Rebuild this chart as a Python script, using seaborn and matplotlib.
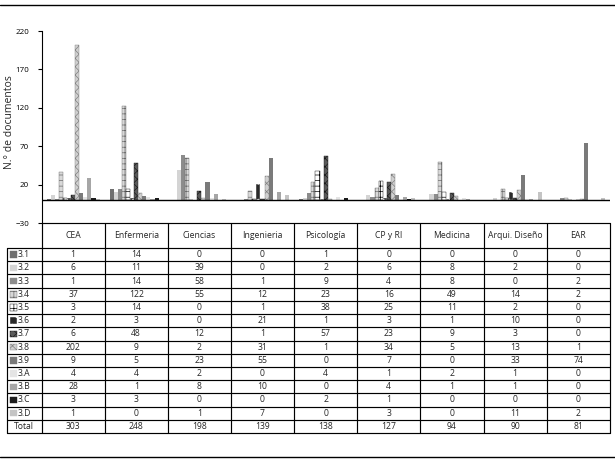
import numpy as np
import pandas as pd
import matplotlib
matplotlib.use("Agg")
import matplotlib.pyplot as plt
from matplotlib.patches import Rectangle
import seaborn as sns

facultades = ["CEA", "Enfermeria", "Ciencias", "Ingenieria", "Psicología",
              "CP y RI", "Medicina", "Arqui. Diseño", "EAR"]
series = ["3.1", "3.2", "3.3", "3.4", "3.5", "3.6", "3.7", "3.8", "3.9",
          "3.A", "3.B", "3.C", "3.D"]
cea = [1, 6, 1, 37, 3, 2, 6, 202, 9, 4, 28, 3, 1]
enfermeria = [14, 11, 14, 122, 14, 3, 48, 9, 5, 4, 1, 3, 0]
ciencias = [0, 39, 58, 55, 0, 0, 12, 2, 23, 2, 8, 0, 1]
ingenieria = [0, 0, 1, 12, 1, 21, 1, 31, 55, 0, 10, 0, 7]
psicologia = [1, 2, 9, 23, 38, 1, 57, 1, 0, 4, 0, 2, 0]
cpyri = [0, 6, 4, 16, 25, 3, 23, 34, 7, 1, 4, 1, 3]
medicina = [0, 8, 8, 49, 11, 1, 9, 5, 0, 2, 1, 0, 0]
arqui = [0, 2, 0, 14, 2, 10, 3, 13, 33, 1, 1, 0, 11]
ear = [0, 0, 2, 2, 0, 0, 0, 1, 74, 0, 0, 0, 2]
totales = [303, 248, 198, 139, 138, 127, 94, 90, 81]

columnas = [cea, enfermeria, ciencias, ingenieria, psicologia, cpyri, medicina, arqui, ear]

# Estilo de cada serie (relleno, trama, color de trama)
relleno = ["#707070", "#d4d4d4", "#8c8c8c", "#d8d8d8", "#ffffff", "#2a2a2a", "#5a5a5a",
           "#d0d0d0", "#7a7a7a", "#e4e4e4", "#a6a6a6", "#1c1c1c", "#c4c4c4"]
trama = [None, None, None, "+++", "+++", "..", "xxxx", "xxxx", None, None, None, None, None]
color_trama = ["#707070", "#d4d4d4", "#8c8c8c", "#6a6a6a", "#000000", "#ffffff", "#1a1a1a",
               "#808080", "#7a7a7a", "#e4e4e4", "#a6a6a6", "#1c1c1c", "#c4c4c4"]

df = pd.DataFrame({
    "Facultad": np.repeat(facultades, len(series)),
    "Serie": series * len(facultades),
    "n": np.concatenate(columnas),
})

sns.set_style("white")
plt.rcParams["font.family"] = ["Open Sans", "DejaVu Sans"]
plt.rcParams["hatch.linewidth"] = 0.5

W, H = 615, 461
fig = plt.figure(figsize=(W / 100, H / 100), dpi=100)

x0, x1 = 41.5, 609.8
y_top, y_bot = 31, 223
ax = fig.add_axes([x0 / W, 1 - y_bot / H, (x1 - x0) / W, (y_bot - y_top) / H])

sns.barplot(data=df, x="Facultad", y="n", hue="Serie", order=facultades,
            hue_order=series, palette=relleno, saturation=1, width=0.84,
            linewidth=0, legend=False, ax=ax)

for i, cont in enumerate(ax.containers):
    for p in cont:
        if trama[i]:
            p.set_hatch(trama[i])
            p.set_edgecolor(color_trama[i])
            p.set_linewidth(0.3)

ax.set_xlim(-0.5, len(facultades) - 0.5)
ax.set_ylim(-30, 220)
ax.set_yticks([-30, 20, 70, 120, 170, 220])
ax.axhline(0, color="black", lw=1)
ax.set_xlabel("")
ax.set_ylabel("")
ax.set_xticks([])
for s in ["top", "right", "bottom"]:
    ax.spines[s].set_visible(False)
ax.spines["left"].set_color("black")
ax.spines["left"].set_linewidth(0.8)
ax.tick_params(axis="y", left=True, direction="out", length=3, width=0.8,
               labelsize=5.8, pad=6, colors="black")

fig.text(10 / W, 1 - 122 / H, "N.° de documentos", rotation=90, fontsize=7.5,
         ha="center", va="center")

# Tabla de datos en coordenadas de pixel
tx = fig.add_axes([0, 0, 1, 1])
tx.set_xlim(0, W)
tx.set_ylim(H, 0)
tx.axis("off")

lw = 0.85
tx.plot([0, W], [5, 5], color="black", lw=1)
tx.plot([0, W], [457, 457], color="black", lw=1)

col_w = (x1 - x0) / len(facultades)
head_top, head_bot = 223, 248
row_h = (433 - head_bot) / (len(series) + 1)
tabla_bot = head_bot + row_h * (len(series) + 1)
lab_x0 = 7

# lineas horizontales
tx.plot([x0, x1], [head_top, head_top], color="black", lw=lw)
for r in range(len(series) + 2):
    y = head_bot + r * row_h
    tx.plot([lab_x0, x1], [y, y], color="black", lw=lw)
# lineas verticales
tx.plot([lab_x0, lab_x0], [head_bot, tabla_bot], color="black", lw=lw)
for c in range(len(facultades) + 1):
    xx = x0 + c * col_w
    tx.plot([xx, xx], [head_top, tabla_bot], color="black", lw=lw)

fs = 6.2
for c, nombre in enumerate(facultades):
    cx = x0 + (c + 0.5) * col_w
    tx.text(cx, (head_top + head_bot) / 2, nombre, ha="center", va="center", fontsize=fs)
    for r in range(len(series)):
        cy = head_bot + (r + 0.5) * row_h
        tx.text(cx, cy, str(columnas[c][r]), ha="center", va="center", fontsize=fs)
    cy = head_bot + (len(series) + 0.5) * row_h
    tx.text(cx, cy, str(totales[c]), ha="center", va="center", fontsize=fs)

for r, s in enumerate(series):
    cy = head_bot + (r + 0.5) * row_h
    tx.add_patch(Rectangle((10, cy - 3.2), 6.5, 6.5, facecolor=relleno[r],
                           hatch=trama[r], edgecolor=color_trama[r], lw=0.3))
    tx.text(18, cy, s, ha="left", va="center", fontsize=fs)
tx.text((lab_x0 + x0) / 2, head_bot + (len(series) + 0.5) * row_h, "Total",
        ha="center", va="center", fontsize=fs)

fig.savefig("out.png", dpi=100)
